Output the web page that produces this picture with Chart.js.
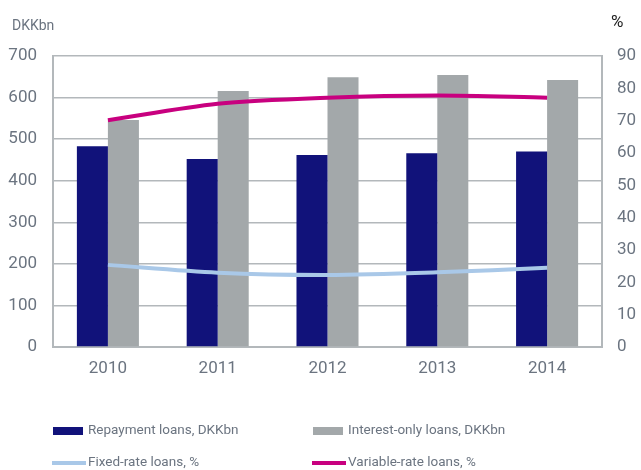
<!DOCTYPE html>
<html>
<head>
<meta charset="utf-8">
<script src="https://cdn.jsdelivr.net/npm/chart.js@4"></script>
<style>
  html, body { margin: 0; padding: 0; background: #fff; }
  #wrap { width: 641px; height: 470px; position: relative; }
</style>
</head>
<body>
<div id="wrap"><canvas id="grafica" width="641" height="470"></canvas></div>
<script>
const years = ['2010', '2011', '2012', '2013', '2014'];
const repayment = [483, 452, 462, 466, 470];       // DKKbn
const interestOnly = [546, 616, 649, 654, 642];    // DKKbn
const fixedRate = [25.4, 23.0, 22.3, 23.1, 24.5];  // %
const variableRate = [70.1, 75.2, 77.1, 77.8, 77.1]; // %

const textColor = '#6b7480';
const gridColor = '#b3b8bb';
const fontFamily = 'Roboto, "Open Sans", sans-serif';

// texts above the two axes
const axisHeads = {
    id: 'axisHeads',
    afterDraw(chart) {
        const c = chart.ctx;
        c.save();
        c.font = '14px ' + fontFamily;
        c.fillStyle = textColor;
        c.textBaseline = 'middle';
        c.textAlign = 'left';
        c.fillText('DKKbn', 12, 26);
        c.fillStyle = '#222';
        c.font = '17px ' + fontFamily;
        c.fillText('%', 611, 23);
        c.restore();
    }
};

// legend in two columns under the chart
const legendTwoCols = {
    id: 'legendTwoCols',
    afterDraw(chart) {
        const c = chart.ctx;
        const pos = [[53, 431], [313, 431], [53, 463], [313, 463]];
        c.save();
        c.font = '13.5px ' + fontFamily;
        c.textBaseline = 'middle';
        chart.data.datasets.forEach((ds, i) => {
            const [x, y] = pos[i];
            c.fillStyle = ds.type === 'line' ? ds.borderColor : ds.backgroundColor;
            if (ds.type === 'line') c.fillRect(x - 1, y - 2, 34, 4);
            else c.fillRect(x, y - 4, 30, 8);
            c.fillStyle = textColor;
            c.fillText(ds.label, x + 35, y);
        });
        c.restore();
    }
};

new Chart(document.getElementById('grafica').getContext('2d'), {
    type: 'bar',
    data: {
        labels: years,
        datasets: [
            { label: 'Repayment loans, DKKbn', data: repayment, backgroundColor: '#11127a', yAxisID: 'y', order: 3 },
            { label: 'Interest-only loans, DKKbn', data: interestOnly, backgroundColor: '#a3a8aa', yAxisID: 'y', order: 3 },
            { type: 'line', label: 'Fixed-rate loans, %', data: fixedRate, borderColor: '#a9c8e8', borderWidth: 4,
              pointRadius: 0, tension: 0.3, yAxisID: 'y1', order: 1 },
            { type: 'line', label: 'Variable-rate loans, %', data: variableRate, borderColor: '#c8007f', borderWidth: 4,
              pointRadius: 0, tension: 0.3, yAxisID: 'y1', order: 1 }
        ]
    },
    options: {
        responsive: false,
        animation: false,
        datasets: { bar: { categoryPercentage: 0.565, barPercentage: 1 } },
        layout: { padding: { top: 56, bottom: 90, left: 0, right: 0 } },
        plugins: { legend: { display: false }, tooltip: { enabled: false } },
        scales: {
            x: {
                grid: { display: false },
                border: { color: gridColor, width: 2 },
                ticks: { color: textColor, font: { family: fontFamily, size: 17 }, padding: 4 },
                afterFit: (s) => { s.height = 33; }
            },
            y: {
                position: 'left', min: 0, max: 700,
                ticks: { stepSize: 100, color: textColor, font: { family: fontFamily, size: 17 }, padding: 16 },
                grid: { color: gridColor, lineWidth: 1.5, drawTicks: false },
                border: { color: gridColor, width: 2 },
                afterFit: (s) => { s.width = 53; }
            },
            y1: {
                position: 'right', min: 0, max: 90,
                ticks: { stepSize: 10, color: textColor, font: { family: fontFamily, size: 17 }, padding: 15 },
                grid: { display: false, drawTicks: false },
                border: { color: gridColor, width: 2 },
                afterFit: (s) => { s.width = 39; }
            }
        }
    },
    plugins: [axisHeads, legendTwoCols]
});
</script>
</body>
</html>
